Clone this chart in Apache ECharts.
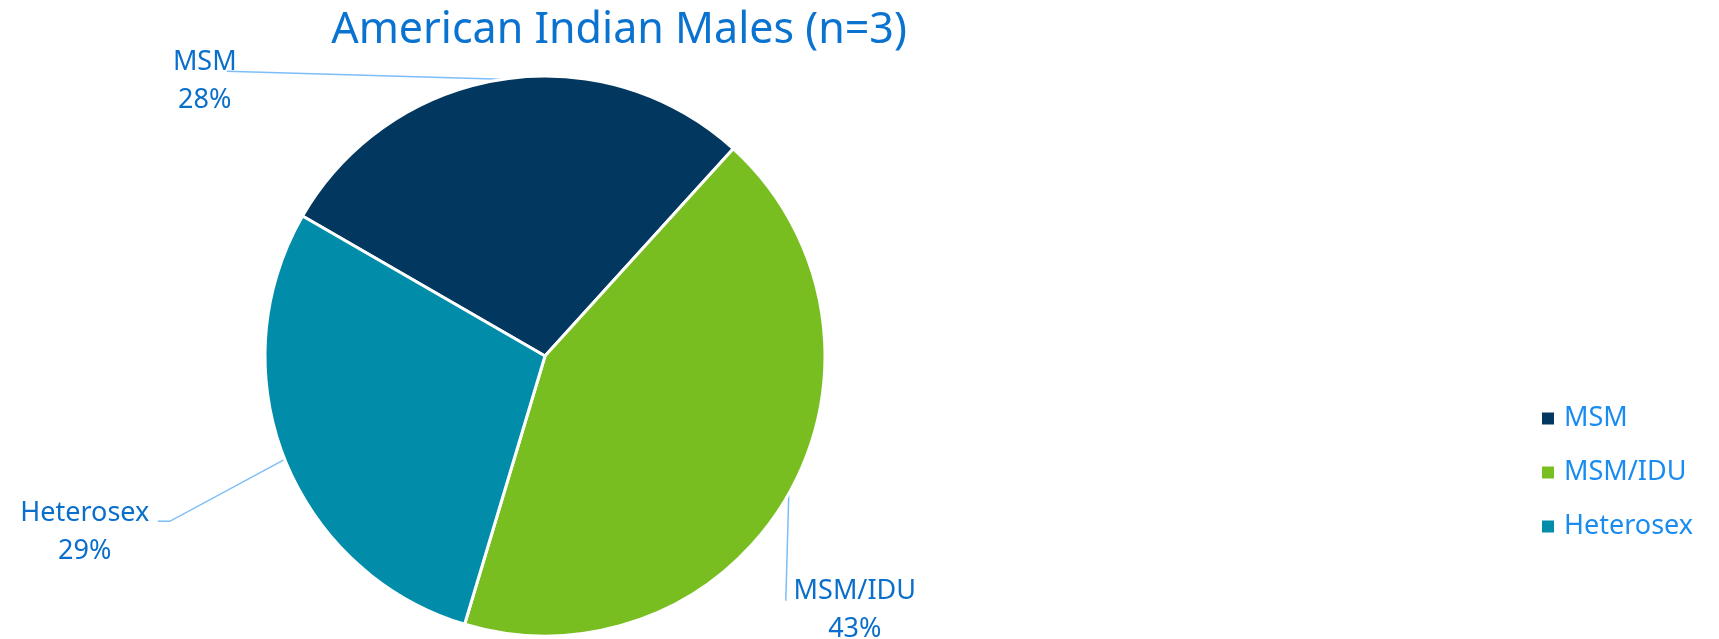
<!DOCTYPE html>
<html>
<head>
<meta charset="utf-8">
<script src="https://cdn.jsdelivr.net/npm/echarts@6/dist/echarts.min.js"></script>
<style>
  html, body { margin: 0; padding: 0; background: #fff; }
  #chart { width: 1719px; height: 639px; }
</style>
</head>
<body>
<div id="chart"></div>
<script>
var categories = ['MSM', 'MSM/IDU', 'Heterosex'];
var values = [28.4, 42.9, 28.7];
var colors = ['#02375F', '#79BE21', '#018DAA'];

// leader line + label offsets from the slice edge point (layout only), same order as categories
var leader = [
    { line: [[-275, -8]], label: [-297, 2] },
    { line: [[-3, 107]], label: [66, 117] },
    { line: [[-115, 62], [-127, 62]], label: [-200, 73] }
];

var chart = echarts.init(document.getElementById('chart'));

var seriesData = categories.map(function (name, i) {
    return { name: name, value: values[i], itemStyle: { color: colors[i] } };
});

var option = {
    title: {
        text: 'American Indian Males (n=3)',
        left: 614,
        textAlign: 'center',
        top: 4,
        textStyle: {
            fontFamily: 'Noto Sans',
            fontSize: 43,
            fontWeight: 'normal',
            color: '#0A72CF'
        }
    },
    legend: {
        orient: 'vertical',
        left: 1535,
        top: 400,
        itemWidth: 14,
        itemHeight: 14,
        itemGap: 27,
        icon: 'rect',
        data: categories,
        textStyle: {
            fontFamily: 'Noto Sans',
            fontSize: 27,
            color: '#1A8CF0',
            padding: [0, 0, 0, 4]
        }
    },
    series: [{
        type: 'pie',
        center: [545, 356],
        radius: 280,
        startAngle: 150,
        clockwise: true,
        percentPrecision: 0,
        data: seriesData,
        itemStyle: { borderColor: '#fff', borderWidth: 3 },
        label: {
            show: true,
            position: 'outside',
            formatter: '{b}\n{d}%',
            fontFamily: 'Noto Sans',
            fontSize: 27,
            lineHeight: 38,
            color: '#0A6FCB'
        },
        labelLine: {
            show: true,
            length: 20,
            length2: 20,
            lineStyle: { color: '#7DBEF8', width: 1.5 }
        },
        labelLayout: function (params) {
            var pts = params.labelLinePoints;
            if (!pts) return {};
            var p0 = pts[0];
            var cfg = leader[params.dataIndex];
            var newPts = [[p0[0], p0[1]]];
            cfg.line.forEach(function (d) {
                newPts.push([p0[0] + d[0], p0[1] + d[1]]);
            });
            return {
                x: p0[0] + cfg.label[0],
                y: p0[1] + cfg.label[1],
                align: 'center',
                verticalAlign: 'middle',
                labelLinePoints: newPts
            };
        },
        emphasis: { disabled: true }
    }]
};

chart.setOption(option);
</script>
</body>
</html>
